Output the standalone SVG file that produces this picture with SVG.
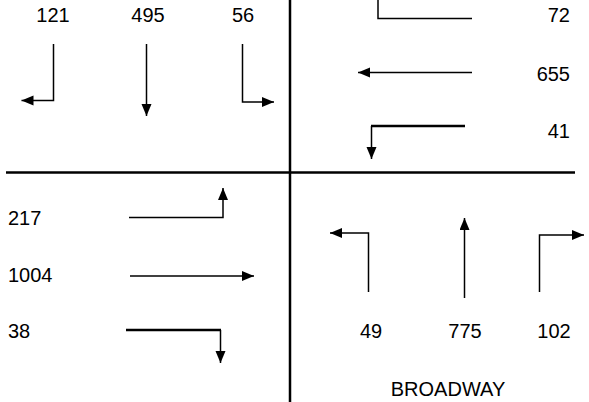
<svg xmlns="http://www.w3.org/2000/svg" width="589" height="402" viewBox="0 0 589 402">
<style>
text{font-family:"Liberation Sans",Arial,sans-serif;font-size:20px;fill:#000}
.m{text-anchor:middle}.e{text-anchor:end}
.a{fill:none;stroke:#000;stroke-width:1.5;marker-end:url(#ah)}
.l{fill:none;stroke:#000;stroke-width:1.5}
.t{stroke-width:2.5}
.d{fill:none;stroke:#000;stroke-width:2.5}
</style>
<defs>
<marker id="ah" markerUnits="userSpaceOnUse" markerWidth="13" markerHeight="11" refX="12" refY="5" orient="auto">
<path d="M0,0 L12,5 L0,10 Z" fill="#000"/>
</marker>
</defs>
<rect width="589" height="402" fill="#fff"/>
<g id="dividers">
<line class="d" x1="290" y1="0" x2="290" y2="402"/>
<line class="d" x1="6" y1="172.5" x2="575" y2="172.5"/>
</g>
<g id="labels">
<text id="n121" class="m" x="53" y="22">121</text>
<text id="n495" class="m" x="148" y="22">495</text>
<text id="n56" class="m" x="243" y="22">56</text>
<text id="n72" class="e" x="570" y="22">72</text>
<text id="n655" class="e" x="570" y="81">655</text>
<text id="n41" class="e" x="570" y="137.5">41</text>
<text id="n217" x="8" y="225">217</text>
<text id="n1004" x="8" y="281.5">1004</text>
<text id="n38" x="8" y="338">38</text>
<text id="n49" class="m" x="371" y="338">49</text>
<text id="n775" class="m" x="465" y="338">775</text>
<text id="n102" class="m" x="554" y="338">102</text>
<text id="broadway" class="m" x="448" y="396">BROADWAY</text>
</g>
<g id="connectors">
<polyline class="a" points="53.5,44 53.5,100.5 21.5,100.5"/>
<polyline class="a" points="146.5,44 146.5,116"/>
<polyline class="a" points="242.5,44 242.5,102 274,102"/>
<polyline class="l" points="472,18.5 378,18.5 378,0"/>
<polyline class="a" points="472,72.5 358,72.5"/>
<line class="l t" x1="465" y1="126" x2="371" y2="126"/>
<polyline class="a" points="371.5,126 371.5,159"/>
<polyline class="a" points="129,217.5 223,217.5 223,188"/>
<polyline class="a" points="130,276 254,276"/>
<line class="l t" x1="126" y1="330" x2="221" y2="330"/>
<polyline class="a" points="220.5,330 220.5,363"/>
<polyline class="a" points="368.5,292 368.5,233 330,233"/>
<polyline class="a" points="464.5,298 464.5,218"/>
<polyline class="a" points="539.5,292 539.5,235 584,235"/>
</g>
</svg>
